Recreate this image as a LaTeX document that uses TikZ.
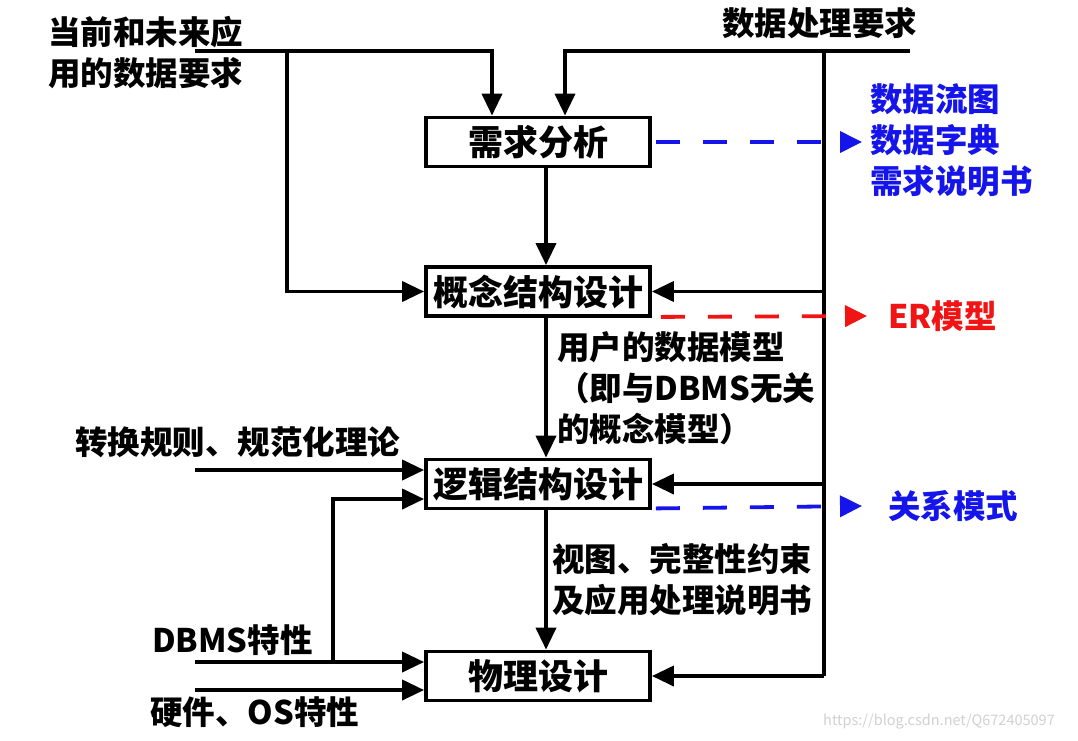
\documentclass[tikz,border=0pt]{standalone}
\usepackage{fontspec}
\setmainfont{Noto Sans CJK SC}
\usetikzlibrary{arrows.meta,calc}
\begin{document}
\begin{tikzpicture}[x=1pt,y=-1pt,
  ln/.style={line width=3.8pt},
  arr/.style={line width=3.8pt,-{Triangle[length=22pt,width=20pt]}},
  stage/.style={draw,line width=3.8pt,minimum width=224pt,minimum height=49pt,inner sep=0pt,font=\bfseries\fontsize{35}{38}\selectfont},
  lbl/.style={inner sep=0pt,align=left,font=\bfseries\fontsize{32.5}{41}\selectfont},
  dsh/.style={line width=3.8pt,dash pattern=on 24pt off 23pt,-{Triangle[length=22pt,width=21pt]}}]
\useasboundingbox (0,0) rectangle (1078,740);
\fill[white] (0,0) rectangle (1078,740);
\definecolor{dblue}{RGB}{20,20,235}
\definecolor{dred}{RGB}{240,20,20}

% stages
\node[stage] (req) at (538,142) {需求分析};
\node[stage] (con) at (538,291.5) {概念结构设计};
\node[stage] (log) at (538,484) {逻辑结构设计};
\node[stage] (phy) at (538,676) {物理设计};

% texts
\node[lbl,anchor=west] (tA) at (48,53) {当前和未来应\\用的数据要求};
\node[lbl,anchor=west] (tB) at (722,23) {数据处理要求};
\node[lbl,anchor=west,text=dblue] (oA) at (870,140) {数据流图\\数据字典\\需求说明书};
\node[lbl,anchor=west,text=dred] (oB) at (888,316) {ER模型};
\node[lbl,anchor=west,text=dblue] (oC) at (888,506) {关系模式};
\node[lbl,anchor=west] (m1) at (557,388) {用户的数据模型\\（即与DBMS无关\\的概念模型）};
\node[lbl,anchor=west] (m2) at (552,580) {视图、完整性约束\\及应用处理说明书};
\node[lbl,anchor=west] (tC) at (75,442) {转换规则、规范化理论};
\node[lbl,anchor=west] (tD) at (152,640) {DBMS特性};
\node[lbl,anchor=west] (tE) at (150,712) {硬件、OS特性};
\node[inner sep=0pt,anchor=west,text=black!18,font=\fontsize{14.5}{16}\selectfont] (wm) at (823,722) {https://blog.csdn.net/Q672405097};

% helper coordinates
\coordinate (inA) at (195,51);
\coordinate (jA) at (492,51);
\coordinate (bA) at (287,51);
\coordinate (inB) at (910,51);
\coordinate (jB) at (565,51);
\coordinate (rv) at (824,51);
\coordinate (vx) at (546,0);
\coordinate (inC) at (195,470);
\coordinate (inD) at (195,662);
\coordinate (inE) at (195,690);
\coordinate (bD) at (333,662);
\coordinate (eA) at (862,142);
\coordinate (eB) at (867,316);
\coordinate (eC) at (862,506);

% input connectors
\draw[arr] (inA) -| (jA |- req.north);
\draw[arr] (bA) |- (con.west);
\draw[arr] (inB) -| (jB |- req.north);
\draw[ln] (rv) -- (rv |- phy.east);
\draw[arr] (rv |- con.east) -- (con.east);
\draw[arr] (rv |- log.east) -- (log.east);
\draw[arr] (rv |- phy.east) -- (phy.east);

% flow
\draw[arr] (vx |- req.south) -- (vx |- con.north);
\draw[arr] (vx |- con.south) -- (vx |- log.north);
\draw[arr] (vx |- log.south) -- (vx |- phy.north);

% left inputs
\draw[arr] (inC) -- (inC -| log.west);
\draw[arr] (bD) |- ($(log.west)+(0,15)$);
\draw[arr] (inD) -- (inD -| phy.west);
\draw[arr] (inE) -- (inE -| phy.west);

% outputs
\draw[dsh,dblue] ($(req.east)+(4,0)$) -- (eA);
\draw[dsh,dred] ($(con.south east)+(9,-1)$) -- (eB);
\draw[dsh,dblue] ($(log.south east)+(4,-2)$) -- (eC);
\end{tikzpicture}
\end{document}
